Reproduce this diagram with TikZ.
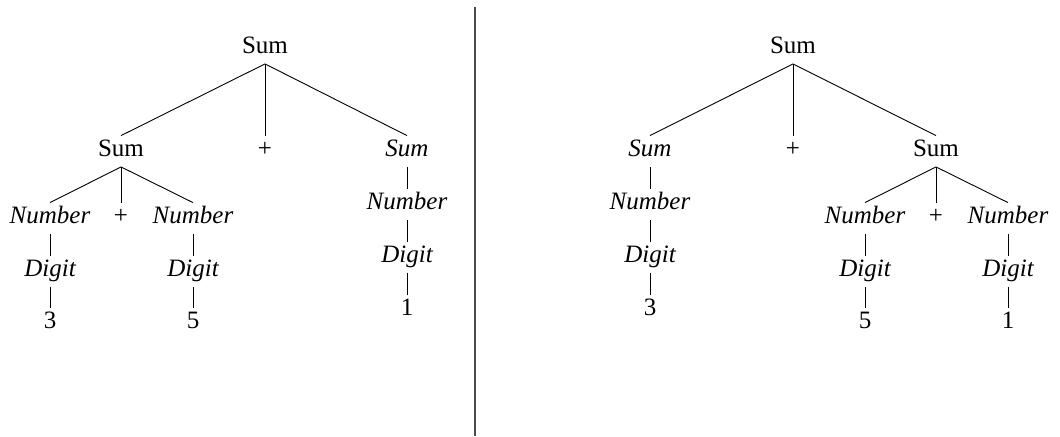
\documentclass[tikz,border=0pt]{standalone}
\usepackage{fontspec}
\setmainfont{Liberation Serif}
\begin{document}
\begin{tikzpicture}[x=0.5pt,y=-0.5pt,
  lbl/.style={anchor=base,inner xsep=2pt,inner ysep=2.5pt,text height=7.5pt,text depth=2.75pt,font=\fontsize{12.5}{14}\selectfont},
  it/.style={lbl,font=\fontsize{12.5}{14}\selectfont\itshape},
  edge/.style={line width=0.45pt},
  rule/.style={line width=0.6pt,draw=black!70}]
\useasboundingbox (0,0) rectangle (1060,436);
% left tree
\node[lbl] (a) at (265,53) {Sum};
\node[lbl] (a1) at (121,156) {Sum};
\node[lbl] (a2) at (265,156) {+};
\node[it] (a3) at (407,156) {Sum};
\node[it] (a11) at (50,223) {Number};
\node[lbl] (a12) at (121,223) {+};
\node[it] (a13) at (193,223) {Number};
\node[it] (a111) at (50,276) {Digit};
\node[it] (a131) at (193,276) {Digit};
\node[lbl] (a1111) at (50,328) {3};
\node[lbl] (a1311) at (193,328) {5};
\node[it] (a31) at (407,209) {Number};
\node[it] (a311) at (407,262) {Digit};
\node[lbl] (a3111) at (407,315) {1};
\foreach \p/\c in {a/a1,a/a2,a/a3,a1/a11,a1/a12,a1/a13,a11/a111,a13/a131,a111/a1111,a131/a1311,a3/a31,a31/a311,a311/a3111}
  \draw[edge] (\p.south) -- (\c.north);
% divider
\coordinate (d1) at (475,7);
\coordinate (d2) at (475,436);
\draw[rule] (d1) -- (d2);
% right tree
\node[lbl] (b) at (793,53) {Sum};
\node[it] (b1) at (650,156) {Sum};
\node[lbl] (b2) at (793,156) {+};
\node[lbl] (b3) at (936,156) {Sum};
\node[it] (b11) at (650,209) {Number};
\node[it] (b111) at (650,262) {Digit};
\node[lbl] (b1111) at (650,315) {3};
\node[it] (b31) at (865,223) {Number};
\node[lbl] (b32) at (936,223) {+};
\node[it] (b33) at (1008,223) {Number};
\node[it] (b311) at (865,276) {Digit};
\node[it] (b331) at (1008,276) {Digit};
\node[lbl] (b3111) at (865,328) {5};
\node[lbl] (b3311) at (1008,328) {1};
\foreach \p/\c in {b/b1,b/b2,b/b3,b1/b11,b11/b111,b111/b1111,b3/b31,b3/b32,b3/b33,b31/b311,b33/b331,b311/b3111,b331/b3311}
  \draw[edge] (\p.south) -- (\c.north);
\end{tikzpicture}
\end{document}
